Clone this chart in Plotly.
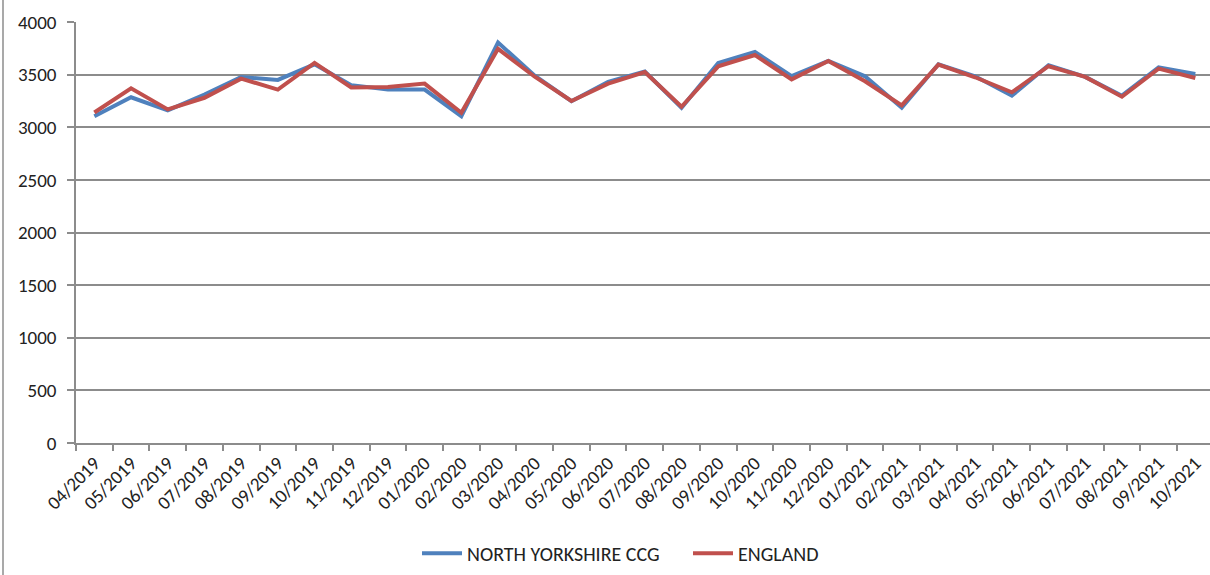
import plotly.graph_objects as go

months = ["04/2019","05/2019","06/2019","07/2019","08/2019","09/2019","10/2019","11/2019","12/2019",
          "01/2020","02/2020","03/2020","04/2020","05/2020","06/2020","07/2020","08/2020","09/2020",
          "10/2020","11/2020","12/2020","01/2021","02/2021","03/2021","04/2021","05/2021","06/2021",
          "07/2021","08/2021","09/2021","10/2021"]

north_yorkshire = [3105, 3285, 3160, 3310, 3478, 3450, 3598, 3400, 3358,
                   3358, 3105, 3805, 3490, 3247, 3430, 3530, 3185, 3610,
                   3715, 3485, 3630, 3484, 3185, 3598, 3484, 3300, 3590,
                   3478, 3300, 3570, 3506]

england = [3140, 3370, 3170, 3280, 3462, 3358, 3611, 3378, 3383,
           3415, 3137, 3745, 3480, 3250, 3415, 3525, 3195, 3579,
           3686, 3455, 3630, 3437, 3207, 3595, 3475, 3332, 3580,
           3478, 3290, 3557, 3468]

y_ticks = [0, 500, 1000, 1500, 2000, 2500, 3000, 3500, 4000]

FONT = "Carlito, Lato, 'Open Sans', sans-serif"
GRID = "#8c8c8c"
TXT = "#222222"

fig = go.Figure()
fig.add_trace(go.Scatter(x=months, y=north_yorkshire, mode="lines", name="NORTH YORKSHIRE CCG",
                         line=dict(color="#4F81BD", width=4)))
fig.add_trace(go.Scatter(x=months, y=england, mode="lines", name="ENGLAND",
                         line=dict(color="#C0504D", width=4)))

fig.update_layout(
    width=1210, height=575,
    margin=dict(l=76, r=0, t=22, b=132),
    plot_bgcolor="white", paper_bgcolor="white",
    font=dict(family=FONT, size=19, color=TXT),
    showlegend=True,
    legend=dict(orientation="h", x=(417 - 76) / 1134, xanchor="left", xref="paper",
                y=-0.262, yanchor="middle", font=dict(size=20, color=TXT),
                itemwidth=40, tracegroupgap=0, entrywidth=216, entrywidthmode="pixels"),
    xaxis=dict(type="category", range=[-0.5, 30.4], showgrid=False,
               showline=True, linecolor=GRID, linewidth=1.5,
               ticks="outside", tickson="boundaries", ticklen=6, tickcolor=GRID, tickwidth=1.5,
               tickangle=-45, tickfont=dict(size=19, color=TXT)),
    yaxis=dict(range=[0, 4000], tickvals=y_ticks, showgrid=True, gridcolor=GRID, gridwidth=1.5,
               showline=True, linecolor=GRID, linewidth=1.5, zeroline=False,
               ticks="outside", ticklen=7, tickcolor=GRID, tickwidth=1.5,
               ticklabelstandoff=7, tickfont=dict(size=19, color=TXT)),
    shapes=[dict(type="line", xref="paper", yref="paper", x0=-73/1134, x1=-73/1134,
                 y0=-132/421, y1=22/421 + 1, line=dict(color=GRID, width=1.5))],
)

fig.write_html("out.html")
